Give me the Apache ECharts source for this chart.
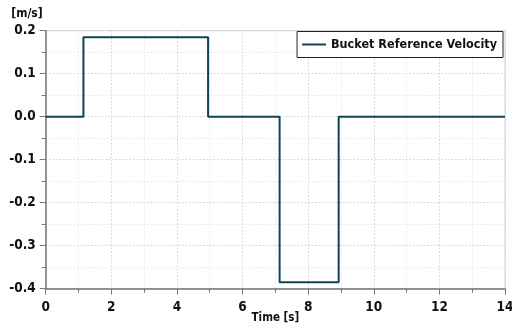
<!DOCTYPE html>
<html>
<head>
<meta charset="utf-8">
<script src="https://cdn.jsdelivr.net/npm/echarts@6/dist/echarts.min.js"></script>
<style>
  html, body { margin: 0; padding: 0; background: #fff; }
  #chart { width: 512px; height: 324px; }
</style>
</head>
<body>
<div id="chart"></div>
<script>
// Step profile of the bucket reference velocity: each value holds from its time onward
const seriesName = 'Bucket Reference Velocity';
const times = [0, 1.15, 4.95, 7.13, 8.93, 14];
const velocity = [0, 0.185, 0, -0.385, 0, 0];
const xTicks = [0, 2, 4, 6, 8, 10, 12, 14];
const yTicks = [-0.4, -0.3, -0.2, -0.1, 0.0, 0.1, 0.2];

const FONT = '"DejaVu Sans Condensed", "DejaVu Sans", sans-serif';
const chart = echarts.init(document.getElementById('chart'));

chart.setOption({
  animation: false,
  backgroundColor: '#ffffff',
  grid: {
    left: 45.7, right: 7, top: 30.7, bottom: 35.3,
    outerBoundsMode: 'none',
    containLabel: false,
    show: true, borderColor: '#d4d4d4', borderWidth: 1, backgroundColor: 'transparent'
  },
  legend: {
    data: [seriesName],
    right: 9,
    top: 31.5,
    padding: [6.5, 6, 6.5, 4],
    itemWidth: 24,
    itemHeight: 14,
    itemGap: 5,
    borderColor: '#222',
    borderWidth: 1,
    backgroundColor: '#fff',
    itemStyle: { opacity: 0 },
    lineStyle: { width: 2, color: '#0f4257' },
    textStyle: { fontFamily: FONT, fontWeight: 'bold', fontSize: 12.5, color: '#111' }
  },
  xAxis: {
    type: 'value',
    min: xTicks[0],
    max: xTicks[xTicks.length - 1],
    interval: 2,
    name: 'Time [s]',
    nameLocation: 'middle',
    nameGap: 23,
    nameMoveOverlap: false,
    nameTextStyle: { fontFamily: FONT, fontWeight: 'bold', fontSize: 11.5, color: '#111' },
    axisLine: { show: true, onZero: false, lineStyle: { color: '#777', width: 1.5 } },
    axisTick: { show: true, inside: false, length: 6, lineStyle: { color: '#777' } },
    minorTick: { show: true, splitNumber: 2, length: 4, lineStyle: { color: '#777' } },
    axisLabel: { margin: 12, fontFamily: FONT, fontWeight: 'bold', fontSize: 13.5, color: '#111' },
    splitLine: { show: true, lineStyle: { color: '#cfcfcf', type: [1.5, 2] } },
    minorSplitLine: { show: true, lineStyle: { color: '#e8e8e8', type: [1.5, 2] } }
  },
  yAxis: {
    type: 'value',
    min: yTicks[0],
    max: yTicks[yTicks.length - 1],
    interval: 0.1,
    name: '[m/s]',
    nameLocation: 'end',
    nameGap: 11,
    nameMoveOverlap: false,
    nameTextStyle: { fontFamily: FONT, fontWeight: 'bold', fontSize: 12, color: '#111', align: 'right', padding: [0, 3, 0, 0] },
    axisLine: { show: true, onZero: false, lineStyle: { color: '#777', width: 1.5 } },
    axisTick: { show: true, inside: false, length: 6, lineStyle: { color: '#777' } },
    minorTick: { show: true, splitNumber: 2, length: 4, lineStyle: { color: '#777' } },
    axisLabel: {
      margin: 10, fontFamily: FONT, fontWeight: 'bold', fontSize: 13.5, color: '#111',
      formatter: v => v.toFixed(1)
    },
    splitLine: { show: true, lineStyle: { color: '#cfcfcf', type: [1.5, 2] } },
    minorSplitLine: { show: true, lineStyle: { color: '#e8e8e8', type: [1.5, 2] } }
  },
  series: [{
    name: seriesName,
    type: 'line',
    step: 'end',
    symbol: 'none',
    showSymbol: false,
    color: '#0f4257',
    lineStyle: { color: '#0f4257', width: 2 },
    data: times.map((t, i) => [t, velocity[i]])
  }]
});
</script>
</body>
</html>
